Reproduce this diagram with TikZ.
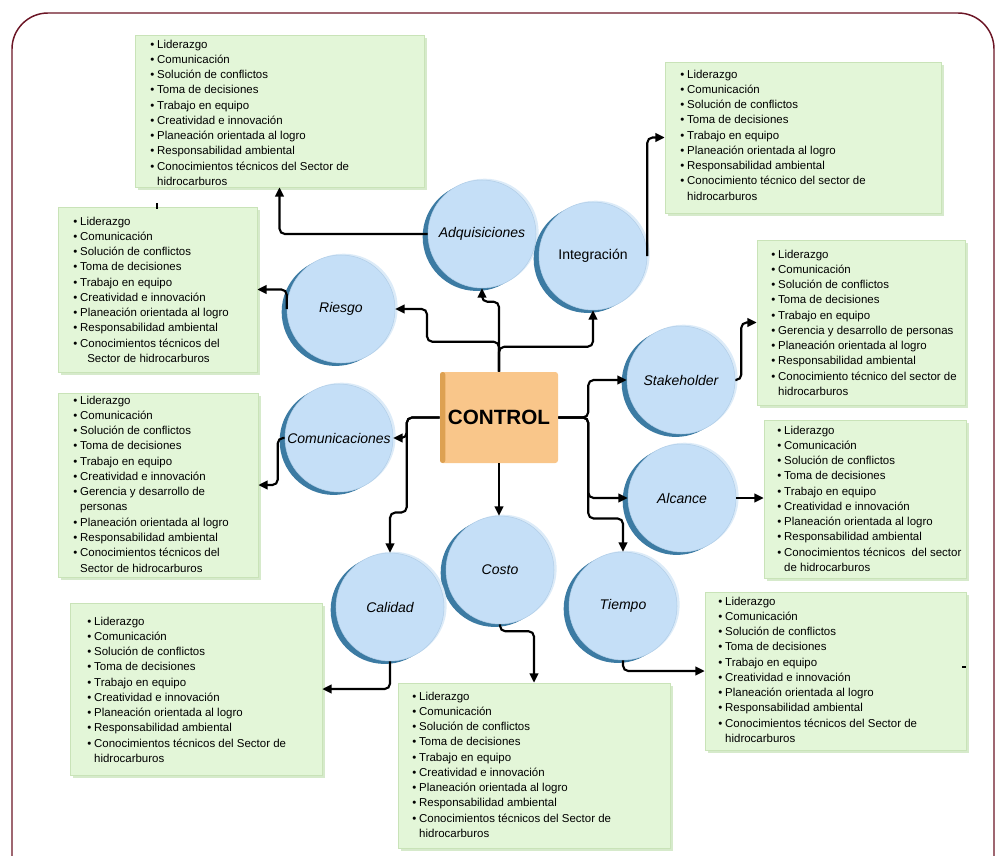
\documentclass[tikz,border=0pt]{standalone}
\usepackage{fontspec}
\setmainfont{Liberation Sans}
\usetikzlibrary{arrows.meta,shadows,fit}

\definecolor{framecol}{HTML}{6B1525}
\definecolor{gfill}{HTML}{E3F6D8}
\definecolor{gedge}{HTML}{C9E3B8}
\definecolor{gside}{HTML}{D6EACB}
\definecolor{cfill}{HTML}{C5DFF7}
\definecolor{cedge}{HTML}{B2CEE8}
\definecolor{cdark}{HTML}{3C7BA3}
\definecolor{chalo}{HTML}{DCEBF8}
\definecolor{ofill}{HTML}{F9C68A}
\definecolor{odark}{HTML}{DDA152}

% bullet line and continuation line of a competence list
\newcommand\bl[1]{\makebox[5.2pt][l]{\textbullet}#1}
\newcommand\cl[1]{\hspace*{5.2pt}#1}

\tikzset{
  gbox/.style={draw=gedge, fill=gfill, line width=0.5pt, inner sep=0pt,
    general shadow={fill=gside, shadow xshift=2.6pt, shadow yshift=-2.6pt}},
  btext/.style={anchor=north west, inner sep=0pt, align=left,
    font=\fontsize{8.6}{11.45}\selectfont},
  circ/.style={circle, minimum size=81pt, inner sep=0pt, fill=cfill,
    draw=cedge, line width=0.4pt,
    general shadow={fill=chalo, shadow xshift=2pt, shadow yshift=1pt},
    general shadow={fill=cdark, shadow xshift=-4pt, shadow yshift=-2.2pt},
    font=\fontsize{10.5}{12}\selectfont\itshape},
  ctlbox/.style={rectangle, rounded corners=2pt, fill=ofill,
    minimum width=88.5pt, minimum height=68.25pt, inner sep=0pt,
    font=\fontsize{15.5}{18}\selectfont\bfseries,
    path picture={\fill[odark] (path picture bounding box.north west)
      rectangle ([xshift=4pt]path picture bounding box.south west);}},
  conn/.style={line width=1.6pt, rounded corners=4pt,
    -{Triangle[length=7pt,width=6.5pt]}},
}

\begin{document}
\begin{tikzpicture}[x=0.75pt,y=-0.75pt]
\useasboundingbox (0,0) rectangle (996,856);

% outer frame
\begin{scope}
  \clip (0,0) rectangle (996,856);
  \draw[framecol, line width=1.1pt, rounded corners=27pt]
    (12,900) -- (12,13) -- (994,13) -- (994,900);
\end{scope}

% competence boxes
\node[gbox, fit={(135,35) (424,187)}] (badq) {};
\node[gbox, fit={(665,62) (941,213)}] (binteg) {};
\node[gbox, fit={(58,207) (257,372)}] (briesgo) {};
\node[gbox, fit={(58,393) (258,577)}] (bcomu) {};
\node[gbox, fit={(757,240) (965,405)}] (bstake) {};
\node[gbox, fit={(764,420) (966,578)}] (balc) {};
\node[gbox, fit={(70,603) (322,775)}] (bcal) {};
\node[gbox, fit={(398,683) (670,848)}] (bcosto) {};
\node[gbox, fit={(705,592) (966,750)}] (btiempo) {};

\node[btext] (tadq) at (150,39.5) {\bl{Liderazgo}\\ \bl{Comunicación}\\ \bl{Solución de conflictos}\\ \bl{Toma de decisiones}\\ \bl{Trabajo en equipo}\\ \bl{Creatividad e innovación}\\ \bl{Planeación orientada al logro}\\ \bl{Responsabilidad ambiental}\\ \bl{Conocimientos técnicos del Sector de}\\ \cl{hidrocarburos}};

\node[btext] (tinteg) at (680,69.5) {\bl{Liderazgo}\\ \bl{Comunicación}\\ \bl{Solución de conflictos}\\ \bl{Toma de decisiones}\\ \bl{Trabajo en equipo}\\ \bl{Planeación orientada al logro}\\ \bl{Responsabilidad ambiental}\\ \bl{Conocimiento técnico del sector de}\\ \cl{hidrocarburos}};

\node[btext] (triesgo) at (73,216.5) {\bl{Liderazgo}\\ \bl{Comunicación}\\ \bl{Solución de conflictos}\\ \bl{Toma de decisiones}\\ \bl{Trabajo en equipo}\\ \bl{Creatividad e innovación}\\ \bl{Planeación orientada al logro}\\ \bl{Responsabilidad ambiental}\\ \bl{Conocimientos técnicos del}\\ \hspace*{10.5pt}Sector de hidrocarburos};

\node[btext] (tcomu) at (73,395.5) {\bl{Liderazgo}\\ \bl{Comunicación}\\ \bl{Solución de conflictos}\\ \bl{Toma de decisiones}\\ \bl{Trabajo en equipo}\\ \bl{Creatividad e innovación}\\ \bl{Gerencia y desarrollo de}\\ \cl{personas}\\ \bl{Planeación orientada al logro}\\ \bl{Responsabilidad ambiental}\\ \bl{Conocimientos técnicos del}\\ \cl{Sector de hidrocarburos}};

\node[btext] (tstake) at (771,249.5) {\bl{Liderazgo}\\ \bl{Comunicación}\\ \bl{Solución de conflictos}\\ \bl{Toma de decisiones}\\ \bl{Trabajo en equipo}\\ \bl{Gerencia y desarrollo de personas}\\ \bl{Planeación orientada al logro}\\ \bl{Responsabilidad ambiental}\\ \bl{Conocimiento técnico del sector de}\\ \cl{hidrocarburos}};

\node[btext] (talc) at (777,425.5) {\bl{Liderazgo}\\ \bl{Comunicación}\\ \bl{Solución de conflictos}\\ \bl{Toma de decisiones}\\ \bl{Trabajo en equipo}\\ \bl{Creatividad e innovación}\\ \bl{Planeación orientada al logro}\\ \bl{Responsabilidad ambiental}\\ \bl{Conocimientos técnicos\ \ del sector}\\ \cl{de hidrocarburos}};

\node[btext] (tcal) at (87,616.5) {\bl{Liderazgo}\\ \bl{Comunicación}\\ \bl{Solución de conflictos}\\ \bl{Toma de decisiones}\\ \bl{Trabajo en equipo}\\ \bl{Creatividad e innovación}\\ \bl{Planeación orientada al logro}\\ \bl{Responsabilidad ambiental}\\ \bl{Conocimientos técnicos del Sector de}\\ \cl{hidrocarburos}};

\node[btext] (tcosto) at (412,691.5) {\bl{Liderazgo}\\ \bl{Comunicación}\\ \bl{Solución de conflictos}\\ \bl{Toma de decisiones}\\ \bl{Trabajo en equipo}\\ \bl{Creatividad e innovación}\\ \bl{Planeación orientada al logro}\\ \bl{Responsabilidad ambiental}\\ \bl{Conocimientos técnicos del Sector de}\\ \cl{hidrocarburos}};

\node[btext] (ttiempo) at (718,596.5) {\bl{Liderazgo}\\ \bl{Comunicación}\\ \bl{Solución de conflictos}\\ \bl{Toma de decisiones}\\ \bl{Trabajo en equipo}\\ \bl{Creatividad e innovación}\\ \bl{Planeación orientada al logro}\\ \bl{Responsabilidad ambiental}\\ \bl{Conocimientos técnicos del Sector de}\\ \cl{hidrocarburos}};

% small stray marks
\draw[line width=1pt] (157,203) -- (157,209);
\draw[line width=1pt] (962,667) -- (966,667);

% process areas
\node[circ] (adq) at (482,234) {Adquisiciones};
\node[circ, font=\fontsize{10.5}{12}\selectfont] (integ) at (593,256) {Integración};
\node[circ] (riesgo) at (341,309) {Riesgo};
\node[circ] (comu) at (339,438) {Comunicaciones};
\node[circ] (stake) at (681,380) {Stakeholder};
\node[circ] (alc) at (682,498) {Alcance};
\node[circ] (costo) at (500,570) {Costo};
\node[circ] (cal) at (390,607) {Calidad};
\node[circ] (tiempo) at (623,606) {Tiempo};

% central node
\node[ctlbox] (ctl) at (499,417.5) {CONTROL};

% from CONTROL to the areas
\draw[conn] (ctl.north) -- ++(0,-70) -| (adq.south);
\draw[conn] (ctl.north) -- ++(0,-30) -| ([xshift=-54pt]ctl.north |- riesgo.east) -- (riesgo.east);
\draw[conn] (ctl.north) -- ++(0,-25) -| (integ.south);
\draw[conn] (ctl.west) -- ++(-33,0) |- (comu.east);
\draw[conn] (ctl.west) -- ++(-33,0) -- ++(0,95) -| (cal.north);
\draw[conn] (ctl.south) -- (ctl.south |- costo.north);
\draw[conn] (ctl.east) -- ++(30,0) |- (stake.west);
\draw[conn] (ctl.east) -- ++(30,0) |- (alc.west);
\draw[conn] (ctl.east) -- ++(30,0) -- ++(0,101) -| (tiempo.north);

% from the areas to their competences
\draw[conn] (adq.west) -| (badq.south);
\draw[conn] (integ.east) |- (binteg.west);
\draw[conn] (riesgo.west) |- (briesgo.east);
\draw[conn] (comu.west) -- ++(-7,0) |- (bcomu.east);
\draw[conn] (cal.south) |- (bcal.east);
\draw[conn] (costo.south) -- ++(0,7) -| (bcosto.north);
\draw[conn] (stake.east) -- ++(6,0) |- (bstake.west);
\draw[conn] (alc.east) -- (alc.east -| balc.west);
\draw[conn] (tiempo.south) |- (btiempo.west);
\end{tikzpicture}
\end{document}
